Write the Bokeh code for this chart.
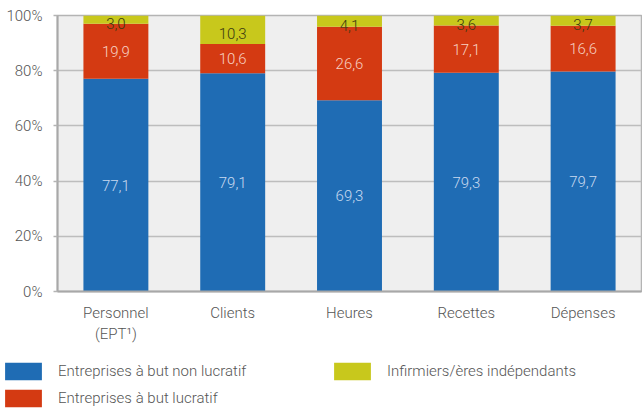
from bokeh.plotting import figure
from bokeh.layouts import column
from bokeh.models import ColumnDataSource, FactorRange, Range1d, FixedTicker, Legend
from bokeh.core.properties import value
from bokeh.embed import file_html
from bokeh.resources import INLINE

categories = ["Personnel\n(EPT\u00b9)", "Clients", "Heures", "Recettes", "Dépenses"]
non_lucratif = [77.1, 79.1, 69.3, 79.3, 79.7]
lucratif = [19.9, 10.6, 26.6, 17.1, 16.6]
independants = [3.0, 10.3, 4.1, 3.6, 3.7]
series_names = ["Entreprises à but non lucratif", "Entreprises à but lucratif",
                "Infirmiers/ères indépendants"]
y_ticks = [0, 20, 40, 60, 80, 100]
y_tick_labels = ["0%", "20%", "40%", "60%", "80%", "100%"]

colors = ["#1f6cb4", "#d43a12", "#c8c81c"]
label_colors = ["#c9daf0", "#f7d2c4", "#3b3b12"]
FONT = "Roboto Light"

def fmt(v):
    return f"{v:.1f}".replace(".", ",")

src = ColumnDataSource(dict(cat=categories, a=non_lucratif, b=lucratif, c=independants))

p = figure(x_range=FactorRange(*categories, range_padding=0),
           y_range=Range1d(0, 100),
           width=642, height=360, output_backend="svg", toolbar_location=None,
           min_border_left=57, min_border_right=1, min_border_top=15, min_border_bottom=69)
p.frame_align = False

p.background_fill_color = "#efefef"
p.border_fill_color = "white"
p.outline_line_color = "#b4b4b4"
p.outline_line_width = 1.5

renderers = p.vbar_stack(["a", "b", "c"], x="cat", width=0.556, source=src,
                         color=colors, line_color=None)

# data labels
stacks = [non_lucratif, lucratif, independants]
for i, (vals, col) in enumerate(zip(stacks, label_colors)):
    ys = []
    for j in range(len(categories)):
        base = sum(stacks[k][j] for k in range(i))
        ys.append(base + vals[j] / 2)
    lsrc = ColumnDataSource(dict(x=categories, y=ys, t=[fmt(v) for v in vals]))
    p.text(x="x", y="y", text="t", source=lsrc, text_align="center",
           text_baseline="middle", text_font=value(FONT), text_font_size="15px",
           text_color=col, y_offset=4 if i == 2 else 0)

# axes
p.xgrid.grid_line_color = None
p.ygrid.grid_line_color = "#bdbdbd"
p.ygrid.grid_line_width = 1.5
p.yaxis.ticker = FixedTicker(ticks=y_ticks)
p.yaxis.major_label_overrides = {t: l for t, l in zip(y_ticks, y_tick_labels)}
p.yaxis.minor_tick_line_color = None
p.yaxis.major_tick_in = 0
p.yaxis.major_tick_out = 4
p.yaxis.major_tick_line_color = "#b4b4b4"
p.yaxis.major_tick_line_width = 1.5
p.yaxis.major_label_standoff = 11
for ax in (p.xaxis, p.yaxis):
    ax.axis_line_color = "#a8a8a8"
    ax.axis_line_width = 2
    ax.major_label_text_font = FONT
    ax.major_label_text_font_size = "15px"
    ax.major_label_text_color = "#555555"
p.xaxis.major_tick_line_color = None
p.xaxis.major_tick_out = 0
p.xaxis.major_tick_in = 0
p.xaxis.major_label_standoff = 12

# legend in its own strip (bars there lie outside the visible y range)
lg = figure(width=642, height=48, output_backend="svg", toolbar_location=None,
            min_border=0, x_axis_type=None, y_axis_type=None,
            x_range=FactorRange(*categories), y_range=Range1d(200, 300))
lg.frame_align = False
lg.grid.grid_line_color = None
lg.outline_line_color = None
lg.background_fill_color = "white"
leg_renderers = lg.vbar_stack(["a", "b", "c"], x="cat", width=0.5, source=src,
                              color=colors, line_color=None)
legend = Legend(items=[(n, [r]) for n, r in zip(series_names, leg_renderers)],
                location="top_left", orientation="vertical", nrows=2,
                glyph_width=46, glyph_height=22, label_height=22, label_width=266,
                label_standoff=12, spacing=5, padding=0, margin=0,
                border_line_color=None, background_fill_alpha=0,
                label_text_font=FONT, label_text_font_size="15px",
                label_text_color="#555555")
lg.add_layout(legend, "center")

layout = column(p, lg, spacing=0)
open("out.html", "w").write(file_html(layout, INLINE))
